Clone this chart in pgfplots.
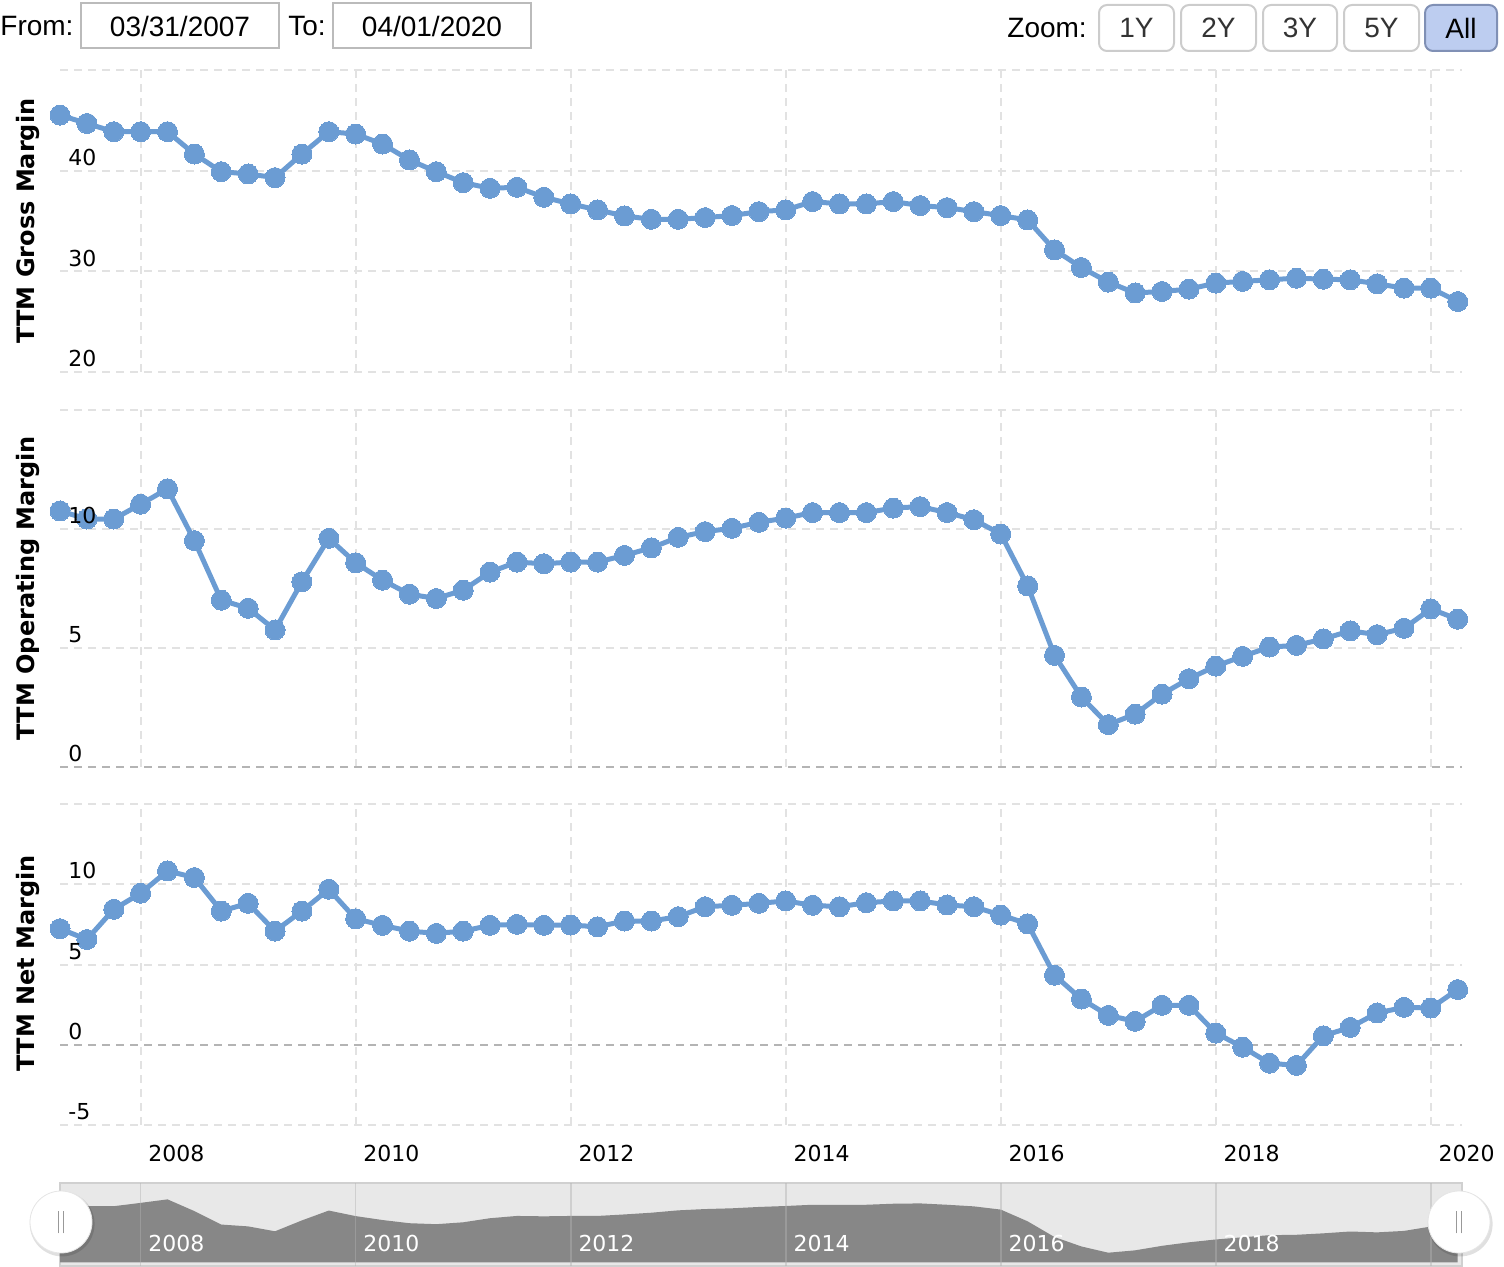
\documentclass[border=0pt]{standalone}
\usepackage{fontspec}
\setmainfont{DejaVu Sans}
\newfontfamily\uifont{Liberation Sans}
\usepackage{pgfplots}
\usepackage{pgfplotstable}
\pgfplotsset{compat=1.18}

\definecolor{ser}{HTML}{6B9CD3}
\definecolor{grd}{HTML}{E2E2E2}
\definecolor{zline}{HTML}{B4B4B4}
\definecolor{navbg}{HTML}{E8E8E8}
\definecolor{navdark}{HTML}{878787}
\definecolor{navborder}{HTML}{D0D0D0}
\definecolor{boxborder}{HTML}{BBBBBB}
\definecolor{btnborder}{HTML}{CCCCCC}
\definecolor{btntext}{HTML}{333333}
\definecolor{allfill}{HTML}{BDCDF0}
\definecolor{allborder}{HTML}{8090B5}

\pgfplotstableread{
x gm om nm
2007.25 45.52 10.76 7.23
2007.50 44.69 10.42 6.56
2007.75 43.87 10.42 8.44
2008.00 43.87 11.04 9.44
2008.25 43.87 11.69 10.83
2008.50 41.65 9.51 10.42
2008.75 39.90 7.01 8.33
2009.00 39.67 6.67 8.81
2009.25 39.31 5.76 7.08
2009.50 41.65 7.78 8.33
2009.75 43.87 9.61 9.69
2010.00 43.64 8.58 7.85
2010.25 42.64 7.85 7.44
2010.50 41.06 7.26 7.08
2010.75 39.90 7.08 6.94
2011.00 38.81 7.43 7.08
2011.25 38.25 8.19 7.44
2011.50 38.35 8.61 7.50
2011.75 37.36 8.54 7.44
2012.00 36.70 8.61 7.46
2012.25 36.10 8.61 7.35
2012.50 35.50 8.89 7.71
2012.75 35.17 9.21 7.71
2013.00 35.17 9.65 7.98
2013.25 35.34 9.89 8.60
2013.50 35.54 10.03 8.69
2013.75 35.93 10.28 8.81
2014.00 36.10 10.46 8.96
2014.25 36.93 10.69 8.69
2014.50 36.70 10.69 8.60
2014.75 36.70 10.69 8.85
2015.00 36.93 10.88 8.96
2015.25 36.53 10.94 8.96
2015.50 36.33 10.69 8.71
2015.75 35.93 10.39 8.60
2016.00 35.54 9.79 8.08
2016.25 35.10 7.61 7.54
2016.50 32.13 4.69 4.33
2016.75 30.38 2.94 2.85
2017.00 28.93 1.78 1.83
2017.25 27.85 2.22 1.46
2017.50 28.00 3.06 2.46
2017.75 28.23 3.71 2.46
2018.00 28.83 4.24 0.73
2018.25 29.00 4.65 -0.15
2018.50 29.16 5.04 -1.15
2018.75 29.32 5.11 -1.29
2019.00 29.22 5.38 0.56
2019.25 29.16 5.72 1.08
2019.50 28.76 5.56 1.98
2019.75 28.33 5.83 2.33
2020.00 28.33 6.64 2.29
2020.25 27.00 6.21 3.44
}\data

\pgfplotsset{
  panel/.style={
    scale only axis, width=701pt, anchor=south west,
    xmin=2007.25, xmax=2020.29,
    axis line style={draw=none}, tick style={draw=none},
    xtick={2008,2010,2012,2014,2016,2018,2020}, xticklabels={},
    yticklabels={},
    grid=major,
    major grid style={color=grd, line width=1pt, dash pattern=on 4pt off 3pt},
    clip=false,
  },
  zeroline/.style={
    extra y ticks={0}, extra y tick labels={},
    extra y tick style={major grid style={color=zline, line width=1pt, dash pattern=on 4pt off 3pt}},
  },
  ser/.style={color=ser, line width=2.5pt, mark=*, mark size=5pt,
    mark options={fill=ser, draw=ser, line width=0pt}},
}
\tikzset{ylab/.style={anchor=south west, inner sep=0pt,
      font=\fontsize{11}{13}\selectfont}}

\begin{document}
\begin{tikzpicture}
\useasboundingbox (0,0) rectangle (752pt,633pt);

% top panel: gross margin
\begin{axis}[panel, at={(30pt,447pt)}, height=151pt, ymin=20, ymax=50,
  ytick={20,30,40,50}]
\addplot[ser] table[x=x,y=gm]{\data};
\end{axis}

% middle panel: operating margin
\begin{axis}[panel, zeroline, at={(30pt,249.5pt)}, height=178.5pt, ymin=0, ymax=15,
  ytick={0,5,10,15}]
\addplot[ser] table[x=x,y=om]{\data};
\end{axis}

% bottom panel: net margin
\begin{axis}[panel, zeroline, at={(30pt,70.5pt)}, height=160.5pt, ymin=-5, ymax=15,
  ytick={-5,0,5,10,15},
  xticklabels={2008,2010,2012,2014,2016,2018,2020},
  xticklabel style={anchor=west, inner sep=0pt, xshift=3.7pt, yshift=-14pt,
    font=\fontsize{11}{13}\selectfont}]
\addplot[ser] table[x=x,y=nm]{\data};
\end{axis}

% y tick labels (drawn on top of the series)
\node[ylab] at (34pt,449.3pt) {20};
\node[ylab] at (34pt,499.6pt) {30};
\node[ylab] at (34pt,550.0pt) {40};
\node[ylab] at (34pt,251.8pt) {0};
\node[ylab] at (34pt,311.3pt) {5};
\node[ylab] at (34pt,370.8pt) {10};
\node[ylab] at (34pt,72.8pt) {-5};
\node[ylab] at (34pt,112.9pt) {0};
\node[ylab] at (34pt,153.05pt) {5};
\node[ylab] at (34pt,193.2pt) {10};

% navigator
\begin{axis}[scale only axis, width=701pt, height=41.5pt, anchor=south west, at={(30pt,0pt)},
  xmin=2007.25, xmax=2020.29, ymin=-0.69, ymax=14.73,
  axis line style={draw=none}, tick style={draw=none},
  axis background/.style={fill=navbg, draw=navborder, line width=1pt},
  axis on top,
  ytick=\empty,
  xtick={2008,2010,2012,2014,2016,2018,2020},
  xticklabels={2008,2010,2012,2014,2016,2018,{}},
  xmajorgrids,
  major grid style={color=gray!60, line width=0.8pt, opacity=0.45},
  xticklabel style={anchor=west, inner sep=0pt, xshift=3.7pt, yshift=11.5pt,
    text=white, font=\fontsize{11}{13}\selectfont},
  clip=true]
\addplot[draw=none, fill=navdark] table[x=x,y=om]{\data} \closedcycle;
\end{axis}

% navigator handles
\foreach \cx in {30.5pt,729.5pt}{
  \fill[black, opacity=0.12] (\cx+0.6pt,21pt) circle (16.2pt);
  \fill[white, draw=black!10, line width=0.4pt] (\cx,22pt) circle (15.5pt);
  \draw[black!40, line width=0.6pt] (\cx-1.25pt,16.3pt) -- (\cx-1.25pt,27.5pt);
  \draw[black!40, line width=0.6pt] (\cx+1.25pt,16.3pt) -- (\cx+1.25pt,27.5pt);
}

% y-axis titles
\node[rotate=90, font=\bfseries\fontsize{12}{14}\selectfont] at (14pt,522.5pt) {TTM Gross Margin};
\node[rotate=90, font=\bfseries\fontsize{12}{14}\selectfont] at (14pt,339pt) {TTM Operating Margin};
\node[rotate=90, font=\bfseries\fontsize{12}{14}\selectfont] at (14pt,151.5pt) {TTM Net Margin};

% range selector
\begin{scope}[font=\uifont\fontsize{14}{16}\selectfont]
\node[anchor=west, inner sep=0pt] at (0pt,620pt) {From:};
\draw[boxborder, line width=1pt] (40.5pt,609pt) rectangle (139.5pt,631.5pt);
\node at (90pt,620pt) {03/31/2007};
\node[anchor=west, inner sep=0pt] at (144pt,620pt) {To:};
\draw[boxborder, line width=1pt] (166.5pt,609pt) rectangle (265.5pt,631.5pt);
\node at (216pt,620pt) {04/01/2020};
\node[anchor=west, inner sep=0pt] at (503.5pt,619pt) {Zoom:};
\foreach \a/\b/\t in {549.5/587/1Y, 590.5/628/2Y, 631.5/668.5/3Y, 672/709.5/5Y}{
  \draw[btnborder, fill=white, line width=1pt, rounded corners=4pt] (\a pt,607.5pt) rectangle (\b pt,630.5pt);
  \node[text=btntext] at ({(\a+\b)/2*1pt},619pt) {\t};
}
\draw[allborder, fill=allfill, line width=1pt, rounded corners=4pt] (712.5pt,607.5pt) rectangle (748.5pt,630.5pt);
\node[text=black] at (730.5pt,619pt) {All};
\end{scope}
\end{tikzpicture}
\end{document}
